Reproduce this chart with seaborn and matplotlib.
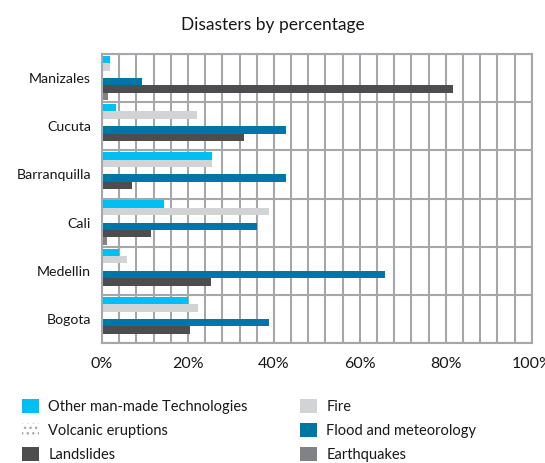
import matplotlib
matplotlib.use("Agg")
import matplotlib.pyplot as plt
import matplotlib.patches as mpatches
import numpy as np
import pandas as pd
import seaborn as sns

cities = ["Manizales", "Cucuta", "Barranquilla", "Cali", "Medellin", "Bogota"]
disaster_types = [
    "Other man-made Technologies",
    "Fire",
    "Volcanic eruptions",
    "Flood and meteorology",
    "Landslides",
    "Earthquakes",
]
other_man_made = [1.8, 3.2, 25.5, 14.5, 4.0, 20.1]
fire = [1.8, 22.0, 25.5, 38.9, 5.9, 22.4]
volcanic = [0.0, 0.0, 0.0, 0.0, 0.0, 0.0]
flood = [9.2, 42.9, 42.9, 36.0, 65.9, 38.9]
landslides = [81.7, 33.0, 7.0, 11.3, 25.3, 20.5]
earthquakes = [1.3, 0.0, 0.0, 1.1, 0.0, 0.0]
x_ticks = [0, 20, 40, 60, 80, 100]
x_tick_labels = ["0%", "20%", "40%", "60%", "80%", "100%"]

colors = {
    "Other man-made Technologies": "#00BFF3",
    "Fire": "#D1D3D4",
    "Volcanic eruptions": "#A7A9AC",
    "Flood and meteorology": "#0077A3",
    "Landslides": "#4D4D4F",
    "Earthquakes": "#808285",
}

series = [other_man_made, fire, volcanic, flood, landslides, earthquakes]
df = pd.DataFrame(
    [(c, t, v) for t, vals in zip(disaster_types, series) for c, v in zip(cities, vals)],
    columns=["city", "type", "value"],
)

sns.set_style("white")
plt.rcParams["font.family"] = ["Lato", "DejaVu Sans"]
plt.rcParams["hatch.linewidth"] = 1.0
text_color = "#1A1718"
grid_color = "#A5A7AA"

fig = plt.figure(figsize=(5.45, 4.63), dpi=100)
ax = fig.add_axes([102 / 545, 1 - 343 / 463, (531.7 - 102) / 545, (343 - 54) / 463])

sns.barplot(
    data=df, y="city", x="value", hue="type",
    order=cities, hue_order=disaster_types, palette=colors,
    orient="h", width=0.92, linewidth=0, saturation=1,
    legend=False, ax=ax,
)

ax.set_xlim(0, 100)
ax.set_ylim(len(cities) - 0.5, -0.5)
ax.set_axisbelow(True)

# vertical grid every 4 %, horizontal rules between city groups
ax.set_xticks(x_ticks)
ax.set_xticklabels(x_tick_labels)
ax.set_xticks(np.arange(0, 101, 4), minor=True)
ax.set_yticks(np.arange(-0.5, len(cities), 1.0), minor=True)
ax.grid(which="minor", axis="both", color=grid_color, linewidth=1.5)
ax.grid(which="major", axis="x", color=grid_color, linewidth=1.5)

for s in ax.spines.values():
    s.set_visible(True)
    s.set_color(grid_color)
    s.set_linewidth(1.5)

ax.tick_params(axis="x", which="major", length=4, width=1.5, color=grid_color,
               labelsize=11.5, labelcolor=text_color, pad=6)
ax.tick_params(axis="x", which="minor", length=0)
ax.tick_params(axis="y", which="major", length=0, labelsize=10.2,
               labelcolor=text_color, pad=8)
ax.tick_params(axis="y", which="minor", length=5, width=1.5, color=grid_color)
ax.set_xlabel("")
ax.set_ylabel("")

fig.text(0.5, 1 - 25 / 463, "Disasters by percentage", ha="center", va="center",
         fontsize=12.5, color=text_color)

handles = []
for t in ["Other man-made Technologies", "Volcanic eruptions", "Landslides",
          "Fire", "Flood and meteorology", "Earthquakes"]:
    if t == "Volcanic eruptions":
        handles.append(mpatches.Patch(facecolor="white", edgecolor="#A8A8A8",
                                      hatch="...", linewidth=0.01, label=t))
    else:
        handles.append(mpatches.Patch(facecolor=colors[t], linewidth=0, label=t))

fig.legend(
    handles=handles, ncol=2, loc="upper left",
    bbox_to_anchor=(22 / 545, 1 - 399 / 463), frameon=False,
    fontsize=10.5, labelcolor=text_color, handlelength=1.15, handleheight=1.15,
    handletextpad=0.65, labelspacing=0.6, columnspacing=3.6, borderpad=0,
    borderaxespad=0,
)

fig.savefig("out.png", dpi=100)
